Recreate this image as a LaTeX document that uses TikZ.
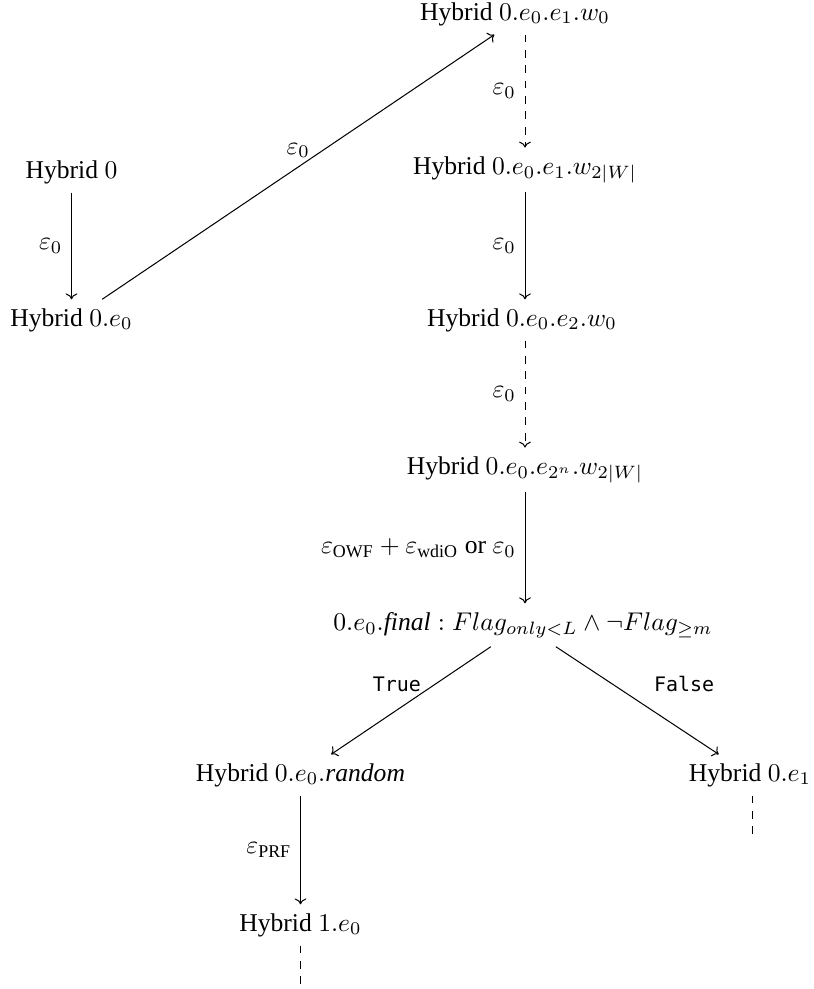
\documentclass[tikz,border=0pt]{standalone}
\usepackage{amsmath,amssymb}
\usepackage[no-math]{fontspec}
\setmainfont{Liberation Serif}
\newfontfamily\codefont[Scale=0.78]{DejaVu Sans Mono}
\usetikzlibrary{positioning,arrows.meta}

\begin{document}
\begin{tikzpicture}[
		x=0.3906pt, y=-0.3906pt,
		>={Computer Modern Rightarrow[width=4.6pt, length=2.3pt]},
		hyb/.style={inner sep=3.33pt},
		arr/.style={->},
		darr/.style={->, dashed},
		lbl/.style={midway, left},
		cond/.style={font=\codefont}
		]
		\useasboundingbox (0,0) rectangle (813,989);
		% left column
		\node[hyb] (h0) at (71.5,172) {Hybrid $0$};
		\node[hyb] (h0e0) at (71.5,320) {Hybrid $0.e_0$};
		% main column
		\node[hyb] (w0) at (515,14) {Hybrid $0.e_0.e_1.w_0$};
		\node[hyb] (w1) at (525,170) {Hybrid $0.e_0.e_1.w_{2|W|}$};
		\node[hyb] (e2) at (522,320) {Hybrid $0.e_0.e_2.w_0$};
		\node[hyb] (e2n) at (525,470) {Hybrid $0.e_0.e_{2^n}.w_{2|W|}$};
		\node[hyb] (fin) at (523,625)
		{$0.e_0.\textit{final} : Flag_{only<L} \land \neg Flag_{\geq m}$};
		% branches
		\node[hyb] (rnd) at (300.5,775) {Hybrid $0.e_0.\textit{random}$};
		\node[hyb] (e1) at (750,775) {Hybrid $0.e_1$};
		\node[hyb] (h1) at (300.5,925) {Hybrid $1.e_0$};
		% loose ends
		\coordinate (e1end) at (752,835);
		\coordinate (h1end) at (300.5,985);
		% arrows: left column and jump
		\draw[arr] (h0) -- (h0e0) node[lbl] {$\varepsilon_0$};
		\draw[arr] (h0e0) -- (w0.225) node[midway, above] {$\varepsilon_0$};
		% main column
		\draw[darr] (w0.south -| w1.north) -- (w1.north) node[lbl] {$\varepsilon_0$};
		\draw[arr] (w1) -- (w1 |- e2.north) node[lbl] {$\varepsilon_0$};
		\draw[darr] (w1 |- e2.south) -- (e2n.north) node[lbl] {$\varepsilon_0$};
		\draw[arr] (e2n) -- (e2n |- fin.north)
		node[lbl] {$\varepsilon_{\text{OWF}} + \varepsilon_{\text{wdiO}}$ or $\varepsilon_0$};
		% branch on the flags
		\draw[arr] (fin) -- (rnd) node[midway, above, xshift=-5.5pt] {\codefont True};
		\draw[arr] (fin) -- (e1) node[midway, above right, xshift=3pt] {\codefont False};
		\draw[arr] (rnd) -- (h1) node[lbl] {$\varepsilon_{\text{PRF}}$};
		\draw[dashed] (e1.south -| e1end) -- (e1end);
		\draw[dashed] (h1) -- (h1end);
	\end{tikzpicture}
\end{document}
